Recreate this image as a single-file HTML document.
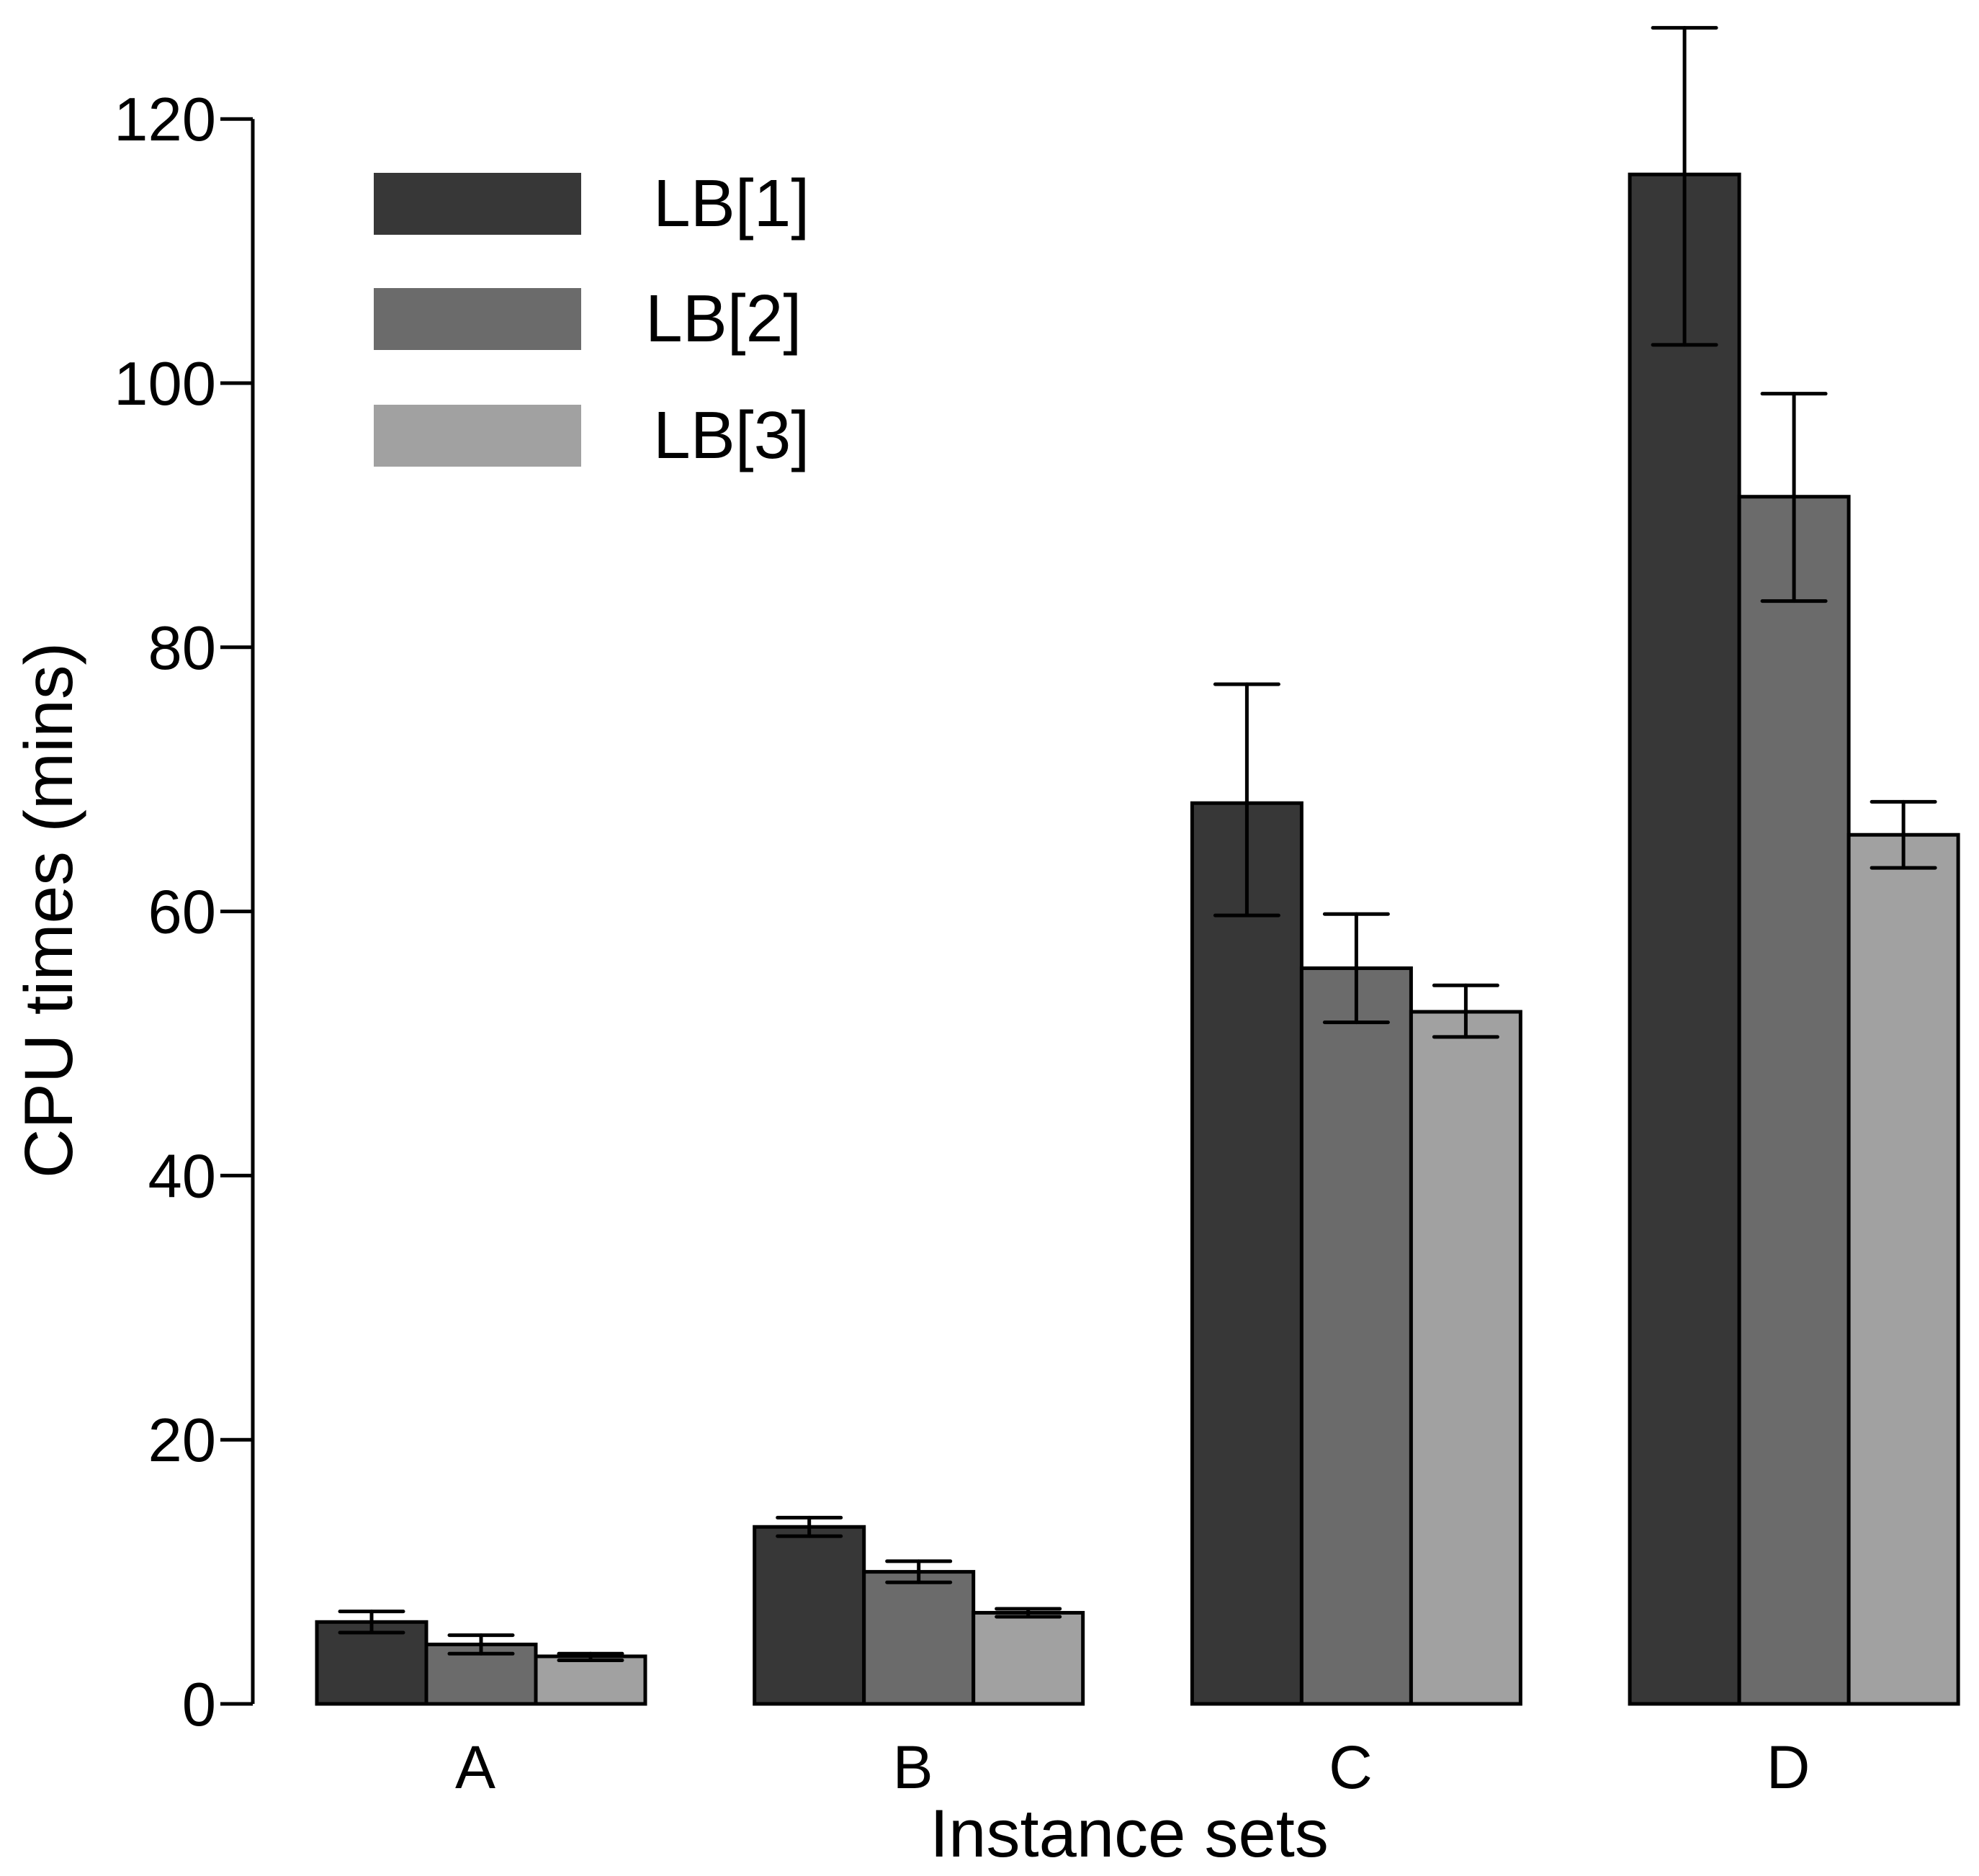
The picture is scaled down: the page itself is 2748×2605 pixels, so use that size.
<!DOCTYPE html>
<html><head><meta charset="utf-8"><style>html,body{margin:0;padding:0;background:#fff}svg{display:block}text{font-family:"Liberation Sans",sans-serif;fill:#000}</style></head>
<body>
<svg id="chart" width="2748" height="2605" viewBox="0 0 2748 2605" xmlns="http://www.w3.org/2000/svg">
<g id="axes"></g><g id="bars"></g><g id="errs"></g><g id="legend"></g>
</svg>
<script>
const categories = ["A","B","C","D"];
const seriesNames = ["LB[1]","LB[2]","LB[3]"];
const lb1 = [6.2, 13.4, 68.2, 115.8];
const lb2 = [4.5, 10.0, 55.7, 91.4];
const lb3 = [3.6, 6.9, 52.4, 65.8];
const lb1Lo = [5.4, 12.7, 59.7, 102.9];
const lb1Hi = [7.0, 14.1, 77.2, 126.9];
const lb2Lo = [3.8, 9.2, 51.6, 83.5];
const lb2Hi = [5.2, 10.8, 59.8, 99.2];
const lb3Lo = [3.3, 6.6, 50.5, 63.3];
const lb3Hi = [3.8, 7.2, 54.4, 68.3];
const yTicks = [0,20,40,60,80,100,120];

const NS="http://www.w3.org/2000/svg";
const colors=["#373737","#6b6b6b","#a1a1a1"];
const y0=2366, pxPerUnit=18.34;
function yScale(v){return y0-v*pxPerUnit;}
const groupStart=440, groupStep=607.7, barW=152;
function xBar(ci,si){return groupStart+ci*groupStep+si*barW;}
function mk(tag,attrs,parent){const e=document.createElementNS(NS,tag);for(const k in attrs)e.setAttribute(k,attrs[k]);parent.appendChild(e);return e;}
const axes=document.getElementById('axes'),bars=document.getElementById('bars'),errs=document.getElementById('errs'),legend=document.getElementById('legend');

let el=mk('line',{x1:351,x2:351,y1:yScale(120),y2:yScale(0),stroke:'#000','stroke-width':5},axes);


yTicks.forEach(t=>{
  const tk=mk('line',{x1:306,x2:351,y1:yScale(t),y2:yScale(t),stroke:'#000','stroke-width':5},axes);
  
  
  const lb=mk('text',{x:300,y:yScale(t)+30,'text-anchor':'end','font-size':85},axes);
  lb.textContent=t;
  
  
});
categories.forEach((c,ci)=>{
  const lb=mk('text',{x:xBar(ci,1)+barW/2-8,y:2483,'text-anchor':'middle','font-size':84},axes);
  lb.textContent=c;
  
  
});
let t=mk('text',{x:1568,y:2578,'text-anchor':'middle','font-size':94},axes);
t.textContent='Instance sets';


t=mk('text',{x:100,y:1264,'text-anchor':'middle','font-size':95,transform:'rotate(-90 100 1264)'},axes);
t.textContent='CPU times (mins)';



const vals=[lb1,lb2,lb3],los=[lb1Lo,lb2Lo,lb3Lo],his=[lb1Hi,lb2Hi,lb3Hi];
categories.forEach((c,ci)=>{
  vals.forEach((s,si)=>{
    const x=xBar(ci,si);
    const r=mk('rect',{x:x,y:yScale(s[ci]),width:barW,height:yScale(0)-yScale(s[ci]),fill:colors[si],stroke:'#000','stroke-width':5},bars);
    
    
    const cx=x+barW/2, lo=yScale(los[si][ci]), hi=yScale(his[si][ci]);
    const g=mk('g',{stroke:'#000','stroke-width':5,'stroke-linecap':'round'},errs);
    
    
    mk('line',{x1:cx,x2:cx,y1:lo,y2:hi},g);
    mk('line',{x1:cx-44,x2:cx+44,y1:lo,y2:lo},g);
    mk('line',{x1:cx-44,x2:cx+44,y1:hi,y2:hi},g);
  });
});

const legY=[240,400,562], legTX=[907,896,907];
seriesNames.forEach((n,i)=>{
  const r=mk('rect',{x:519,y:legY[i],width:288,height:86,fill:colors[i]},legend);
  
  
  const tx=mk('text',{x:legTX[i],y:legY[i]+74,'font-size':93},legend);
  tx.textContent=n;
  
  
});
</script>
</body></html>
